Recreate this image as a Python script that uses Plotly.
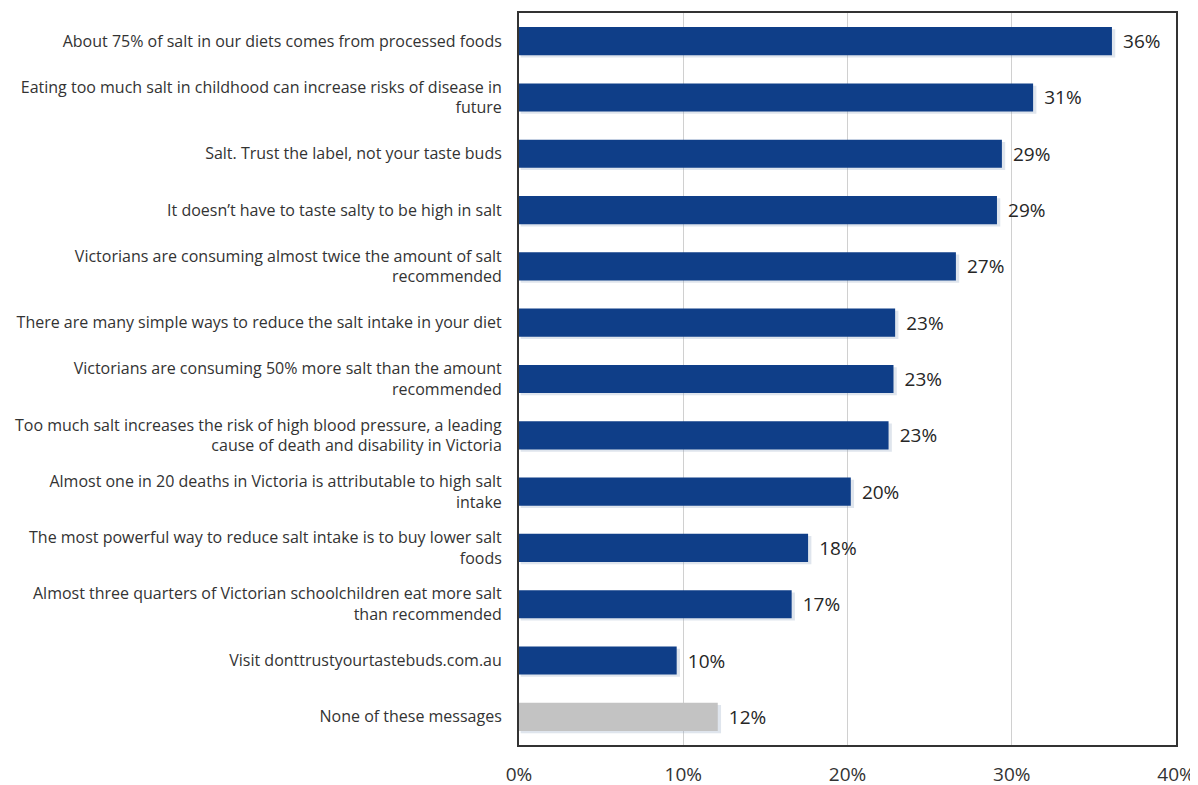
import plotly.graph_objects as go

categories = [
    "About 75% of salt in our diets comes from processed foods",
    "Eating too much salt in childhood can increase risks of disease in<br>future",
    "Salt. Trust the label, not your taste buds",
    "It doesn\u2019t have to taste salty to be high in salt",
    "Victorians are consuming almost twice the amount of salt<br>recommended",
    "There are many simple ways to reduce the salt intake in your diet",
    "Victorians are consuming 50% more salt than the amount<br>recommended",
    "Too much salt increases the risk of high blood pressure, a leading<br>cause of death and disability in Victoria",
    "Almost one in 20 deaths in Victoria is attributable to high salt<br>intake",
    "The most powerful way to reduce salt intake is to buy lower salt<br>foods",
    "Almost three quarters of Victorian schoolchildren eat more salt<br>than recommended",
    "Visit donttrustyourtastebuds.com.au",
    "None of these messages",
]
values = [36.1, 31.3, 29.4, 29.1, 26.6, 22.9, 22.8, 22.5, 20.2, 17.6, 16.6, 9.6, 12.1]
value_labels = ["36%", "31%", "29%", "29%", "27%", "23%", "23%", "23%", "20%", "18%", "17%", "10%", "12%"]
bar_colors = ["#0F3E88"] * 12 + ["#C3C3C3"]
tick_vals = [0, 10, 20, 30, 40]
tick_text = ["0%", "10%", "20%", "30%", "40%"]

fig = go.Figure()
# soft drop shadow under each bar
fig.add_trace(go.Bar(
    y=categories,
    x=[v + 0.1 for v in values],
    base=0.1,
    orientation="h",
    width=0.5,
    offset=-0.21,
    marker=dict(color="rgba(140,160,190,0.28)", line=dict(width=0)),
    hoverinfo="skip",
))
fig.add_trace(go.Bar(
    y=categories,
    x=values,
    orientation="h",
    width=0.5,
    offset=-0.25,
    marker=dict(color=bar_colors, line=dict(width=0)),
    text=value_labels,
    texttemplate="\u00a0\u2009%{text}",
    textposition="outside",
    textfont=dict(family="Open Sans", size=19, color="#262626"),
    cliponaxis=False,
    hoverinfo="skip",
))

fig.update_layout(
    width=1198,
    height=785,
    margin=dict(l=511, r=30, t=3, b=48),
    paper_bgcolor="white",
    plot_bgcolor="white",
    barmode="overlay",
    showlegend=False,
    font=dict(family="Open Sans", color="#333333"),
    xaxis=dict(
        range=[0, 40],
        tickvals=tick_vals,
        ticktext=tick_text,
        showgrid=True,
        gridcolor="#D0D0D0",
        gridwidth=1,
        zeroline=False,
        showline=True,
        linecolor="#333333",
        linewidth=2,
        mirror=True,
        ticks="",
        tickfont=dict(family="Open Sans", size=19, color="#333333"),
        ticklabelstandoff=11,
    ),
    yaxis=dict(
        autorange="reversed",
        showline=True,
        linecolor="#333333",
        linewidth=2,
        mirror=True,
        ticks="",
        tickfont=dict(family="Open Sans", size=16, color="#333333"),
        ticklabelstandoff=12,
    ),
)

fig.write_html("out.html")
